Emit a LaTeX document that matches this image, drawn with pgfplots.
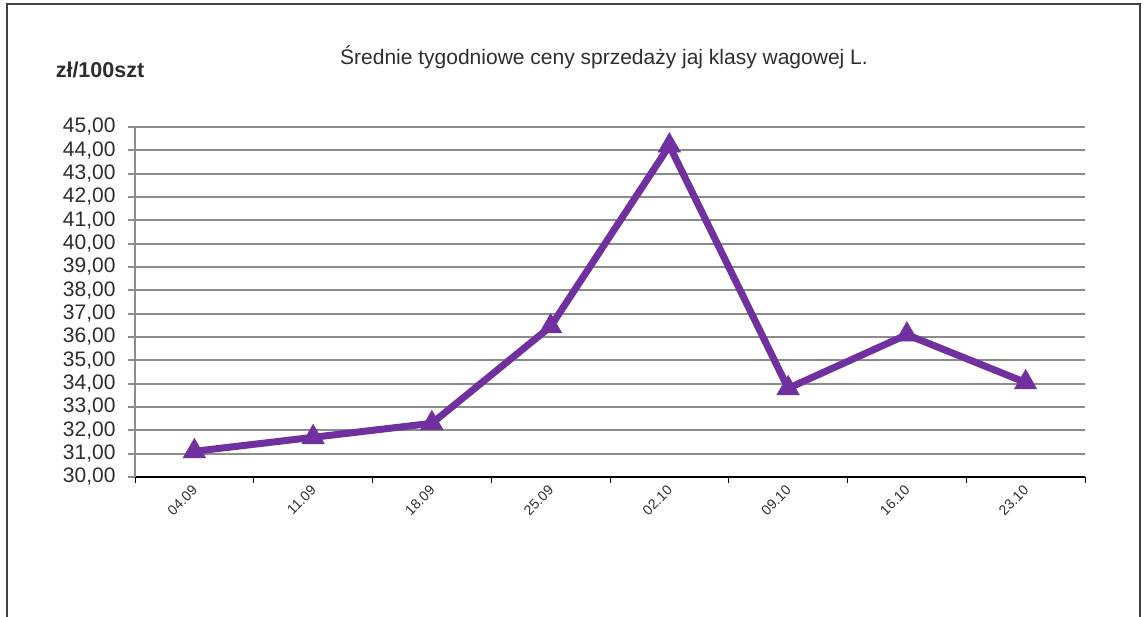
\documentclass[border=0pt]{standalone}
\usepackage{pgfplots}
\pgfplotsset{compat=1.18}
\usepackage{fontspec}
\setmainfont{Liberation Sans}
\definecolor{purp}{RGB}{112,48,160}
\definecolor{gridg}{RGB}{140,140,140}
\definecolor{txt}{RGB}{45,45,45}
\begin{document}
\begin{tikzpicture}[x=1pt,y=1pt]
\path[use as bounding box] (0,0) rectangle (1145,617);
\draw[line width=1.5pt, black!75] (7,0) -- (7,613) -- (1140,613) -- (1140,0);
\node[font=\fontsize{21}{21}\selectfont, text=txt] at (604,560) {Średnie tygodniowe ceny sprzedaży jaj klasy wagowej L.};
\node[font=\bfseries\fontsize{21.5}{21.5}\selectfont, text=txt] at (100,547) {zł/100szt};
\begin{axis}[
  at={(135pt,140pt)}, anchor=south west,
  scale only axis, width=950pt, height=350pt,
  xmin=-0.5, xmax=7.5, ymin=30, ymax=45,
  ytick={30,31,...,45},
  xtick={0,...,7},
  xticklabels={04.09,11.09,18.09,25.09,02.10,09.10,16.10,23.10},
  minor xtick={-0.5,0.5,...,7.5},
  axis x line*=bottom, axis y line*=left,
  ymajorgrids, major grid style={gridg, line width=2pt},
  x axis line style={black, line width=1.2pt, -},
  y axis line style={gridg, line width=2pt, -},
  tick align=outside,
  major x tick style={draw=none},
  minor x tick style={black, line width=1pt},
  minor tick length=6pt,
  major y tick style={gridg, line width=2pt},
  major tick length=7pt,
  /pgf/number format/.cd, fixed, fixed zerofill, precision=2, use comma, assume math mode=true,
  /pgfplots/.cd,
  yticklabel style={font=\fontsize{21}{21}\selectfont, text=txt, xshift=-9pt},
  xticklabel style={font=\fontsize{14}{14}\selectfont, text=txt, rotate=45, anchor=east, yshift=-3pt, xshift=1pt},
  clip=false,
]
\addplot[purp, line width=7pt, mark=triangle*, mark size=13pt, mark options={fill=purp, draw=purp, line width=0.5pt}] coordinates {
(0,31.1) (1,31.7) (2,32.3) (3,36.45) (4,44.2) (5,33.8) (6,36.1) (7,34.05)
};
\end{axis}
\end{tikzpicture}
\end{document}
